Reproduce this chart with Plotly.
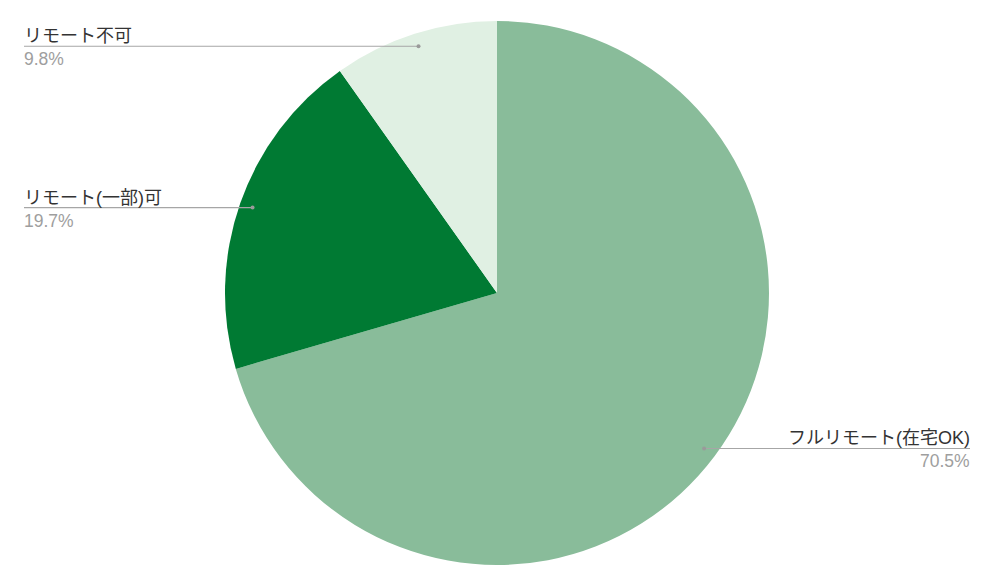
import math
import plotly.graph_objects as go

categories = ["フルリモート(在宅OK)", "リモート(一部)可", "リモート不可"]
values = [70.5, 19.7, 9.8]
pct_labels = ["70.5%", "19.7%", "9.8%"]
colors = ["#89BC9A", "#007A33", "#E0F0E3"]

W, H = 999, 583
CX, CY, R = 497, 293, 272

def px(x):
    return x / W

def py(y):
    return (H - y) / H

fig = go.Figure(go.Pie(
    labels=categories,
    values=values,
    sort=False,
    direction="clockwise",
    rotation=0,
    textinfo="none",
    hoverinfo="label+percent",
    marker=dict(colors=colors, line=dict(width=0)),
    domain=dict(x=[px(CX - R), px(CX + R)], y=[py(CY + R), py(CY - R)]),
    showlegend=False,
))

label_side = [("right", 970), ("left", 24), ("left", 24)]
shapes = []
annotations = []
total = sum(values)
cum = 0.0
for i, v in enumerate(values):
    mid = (cum + v / 2) / total * 2 * math.pi
    cum += v
    r = R * 0.952
    dx = CX + r * math.sin(mid)
    dy = CY - r * math.cos(mid)
    side, lx = label_side[i]
    shapes.append(dict(type="line", xref="paper", yref="paper",
                       x0=px(lx), x1=px(dx), y0=py(dy), y1=py(dy),
                       line=dict(color="#A6A6A6", width=1.2)))
    shapes.append(dict(type="circle", xref="paper", yref="paper",
                       x0=px(dx - 2), x1=px(dx + 2), y0=py(dy - 2), y1=py(dy + 2),
                       fillcolor="#9A9A9A", line=dict(width=0)))
    anchor = "left" if side == "left" else "right"
    tx = lx - 2 if side == "left" else lx + 2
    annotations.append(dict(x=px(tx), y=py(dy + 2), xref="paper", yref="paper",
                            text=categories[i], showarrow=False,
                            xanchor=anchor, yanchor="bottom",
                            font=dict(size=18, color="#333333")))
    annotations.append(dict(x=px(tx), y=py(dy + 1), xref="paper", yref="paper",
                            text=pct_labels[i], showarrow=False,
                            xanchor=anchor, yanchor="top",
                            font=dict(size=17.5, color="#9E9E9E")))

fig.update_layout(
    width=W, height=H,
    margin=dict(l=0, r=0, t=0, b=0),
    paper_bgcolor="white",
    plot_bgcolor="white",
    font=dict(family="Liberation Sans, Arial, 'Noto Sans CJK JP', sans-serif"),
    shapes=shapes,
    annotations=annotations,
)

fig.write_html("out.html", config={"displayModeBar": False},
               post_script="document.body.style.margin='0';document.body.style.overflow='hidden';")
